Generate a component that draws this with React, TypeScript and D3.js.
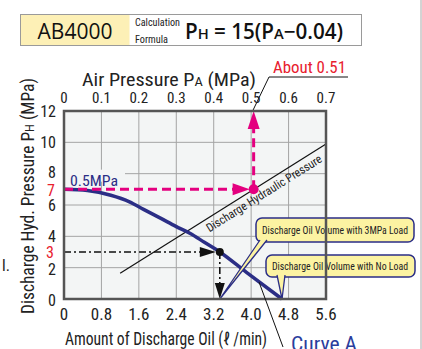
import React from "react";
import * as d3 from "d3";

// ---- data ----
const flowTicks = [0, 0.8, 1.6, 2.4, 3.2, 4.0, 4.8, 5.6];
const flowTickLabels = ["0", "0.8", "1.6", "2.4", "3.2", "4.0", "4.8", "5.6"];
const airTicks = [0, 0.1, 0.2, 0.3, 0.4, 0.5, 0.6, 0.7];
const airTickLabels = ["0", "0.1", "0.2", "0.3", "0.4", "0.5", "0.6", "0.7"];
const phTicks = [0, 2, 4, 6, 8, 10, 12];
const phTickLabels = ["0", "2", "4", "6", "8", "10", "12"];

// Curve A: discharge oil volume vs hydraulic pressure at 0.5MPa air
const curveFlow = [0, 0.5, 1.0, 1.4, 1.7, 2.05, 2.4, 2.7, 3.0, 3.33, 3.9, 4.66];
const curvePH = [7, 6.92, 6.62, 6.2, 5.72, 5.18, 4.62, 4.18, 3.62, 3.0, 1.7, 0];

// Discharge hydraulic pressure line PH = 15(PA - 0.04)
const formulaGain = 15;
const formulaOffset = 0.04;
const formulaRange = [0.15, 0.7];

const markPH = 7; // magenta reading
const loadPH = 3; // 3MPa load
const loadFlow = 3.33;

const FONT = "'Liberation Sans Narrow', 'Roboto Condensed', 'Open Sans', sans-serif";
const FONT_N = "'Open Sans', 'Noto Sans', sans-serif";
const BLUE = "#2b2e86";
const MAGENTA = "#e4007f";
const RED = "#e8202e";

export default function App() {
  const W = 422, H = 349;
  const x = d3.scaleLinear().domain([0, 5.6]).range([64, 326]);
  const xTop = d3.scaleLinear().domain([0, 0.7]).range([64, 326]);
  const y = d3.scaleLinear().domain([0, 12]).range([299, 111]);

  const curvePts: [number, number][] = curveFlow.map((f, i) => [f, curvePH[i]]);
  const curvePath = d3
    .line<[number, number]>()
    .x((d) => x(d[0]))
    .y((d) => y(d[1]))
    .curve(d3.curveMonotoneX)(curvePts) as string;

  const ph = (pa: number) => formulaGain * (pa - formulaOffset);
  const lineX1 = xTop(formulaRange[0]), lineY1 = y(ph(formulaRange[0]));
  const lineX2 = xTop(formulaRange[1]), lineY2 = y(ph(formulaRange[1]));
  const angle = (Math.atan2(lineY2 - lineY1, lineX2 - lineX1) * 180) / Math.PI;

  const markPA = markPH / formulaGain + formulaOffset;
  const mdX = xTop(markPA), mdY = y(ph(markPA));
  const my = y(markPH);

  const ldX = x(loadFlow), ldY = y(loadPH);

  const x0 = x(0), xr = x(5.6), yb = y(0), yt = y(12);

  // text anchor along the formula line
  const tPA = 0.37;
  const tX = xTop(tPA), tY = y(ph(tPA));

  const tickDy = (t: number) => (t === 8 ? 4 : t === 2 ? 7 : t === 0 ? 7 : 6);

  return (
    <svg
      width={W}
      height={H}
      viewBox={`0 0 ${W} ${H}`}
      style={{ position: "absolute", left: 0, top: 0, background: "#fff" }}
    >
      <rect x={0} y={0} width={W} height={H} fill="#fff" />
      <line x1={421} x2={421} y1={0} y2={H} stroke="#a8a8a8" strokeWidth={1} />

      {/* Header */}
      <rect x={20.5} y={14.5} width={109} height={31} fill="#fdf0b6" />
      <rect x={20.5} y={14.5} width={341} height={31} fill="none" stroke="#9a9a9a" strokeWidth={1} />
      <text x={75} y={39} textAnchor="middle" fontFamily={FONT_N} fontSize={21} fill="#111">AB4000</text>
      <text x={135} y={26} fontFamily={FONT} fontSize={10} fill="#222" textLength={45} lengthAdjust="spacingAndGlyphs">Calculation</text>
      <text x={135} y={43} fontFamily={FONT} fontSize={10} fill="#222" textLength={33} lengthAdjust="spacingAndGlyphs">Formula</text>
      <text x={185} y={39} fontFamily={FONT_N} fontSize={21} fontWeight={600} fill="#111" textLength={158} lengthAdjust="spacingAndGlyphs">
        P<tspan fontSize={15}>H</tspan> = 15(P<tspan fontSize={15}>A</tspan>−0.04)
      </text>

      {/* Top axis title */}
      <text x={82} y={86} fontFamily={FONT} fontSize={18} fill="#222" textLength={174} lengthAdjust="spacingAndGlyphs">
        Air Pressure P<tspan fontSize={13}>A</tspan> (MPa)
      </text>

      {/* About 0.51 */}
      <text x={273} y={73} fontFamily={FONT} fontSize={16} fill={RED} textLength={73} lengthAdjust="spacingAndGlyphs">About 0.51</text>
      <polyline points={`348,77 269,77 ${mdX - 1},${yt}`} fill="none" stroke="#111" strokeWidth={1} />

      {/* Plot background */}
      <rect x={x0} y={yt} width={xr - x0} height={yb - yt} fill="#f3f5f5" />
      {/* grid */}
      {flowTicks.map((t) => (
        <line key={"gx" + t} x1={x(t)} x2={x(t)} y1={yt} y2={yb} stroke="#a4a4a4" strokeWidth={1} />
      ))}
      {phTicks.map((t) => (
        <line key={"gy" + t} x1={x0} x2={xr} y1={y(t)} y2={y(t)} stroke="#a4a4a4" strokeWidth={1} />
      ))}
      {/* label background for 0.5MPa */}
      <rect x={x0 + 1} y={y(8) - 4} width={60} height={12} fill="#f3f5f5" />
      <text x={70} y={186} fontFamily={FONT} fontSize={14} fill={BLUE} textLength={48} lengthAdjust="spacingAndGlyphs">0.5MPa</text>

      {/* Discharge hydraulic pressure line */}
      <line x1={lineX1} y1={lineY1} x2={lineX2} y2={lineY2} stroke="#111" strokeWidth={1.2} />
      <g transform={`translate(${tX},${tY}) rotate(${angle})`}>
        <text x={0} y={13} fontFamily={FONT} fontSize={12} fill="#222" textLength={134} lengthAdjust="spacingAndGlyphs">
          Discharge Hydraulic Pressure
        </text>
      </g>

      {/* Curve A */}
      <path d={curvePath} fill="none" stroke={BLUE} strokeWidth={3.5} strokeLinecap="butt" />

      {/* Magenta reading */}
      <line x1={x0} x2={mdX - 20} y1={my} y2={my} stroke={MAGENTA} strokeWidth={3} strokeDasharray="9 5" />
      <path d={`M${mdX - 21},${my - 6} L${mdX - 4},${my} L${mdX - 21},${my + 6} Z`} fill={MAGENTA} />
      <line x1={mdX} x2={mdX} y1={mdY} y2={yt + 16} stroke={MAGENTA} strokeWidth={3} strokeDasharray="9 5" />
      <path d={`M${mdX - 6},${yt + 18} L${mdX},${yt} L${mdX + 6},${yt + 18} Z`} fill={MAGENTA} />
      <circle cx={mdX} cy={mdY} r={5} fill={MAGENTA} />

      {/* Black 3MPa reading */}
      <line x1={x0} x2={ldX - 18} y1={ldY} y2={ldY} stroke="#111" strokeWidth={1.6} strokeDasharray="7 3 2 3" />
      <path d={`M${ldX - 20},${ldY - 5} L${ldX - 4},${ldY} L${ldX - 20},${ldY + 5} Z`} fill="#111" />
      <line x1={ldX} x2={ldX} y1={ldY} y2={yb - 14} stroke="#111" strokeWidth={1.6} strokeDasharray="7 3 2 3" />
      <path d={`M${ldX - 5},${yb - 16} L${ldX},${yb} L${ldX + 5},${yb - 16} Z`} fill="#111" />
      <circle cx={ldX} cy={ldY} r={4} fill="#111" />

      {/* Callout 1 */}
      <rect x={256} y={218} width={158} height={24} rx={6} fill="#fcf3a2" stroke={BLUE} strokeWidth={1.5} />
      <path d={`M260,240 L${ldX},${yb} L267,240`} fill="#fcf3a2" stroke={BLUE} strokeWidth={1.3} />
      <text x={335} y={234} textAnchor="middle" fontFamily={FONT} fontSize={11} fill="#222" textLength={146} lengthAdjust="spacingAndGlyphs">
        Discharge Oil Volume with 3MPa Load
      </text>

      {/* Callout 2 */}
      <rect x={266} y={255} width={149} height={22} rx={6} fill="#fcf3a2" stroke={BLUE} strokeWidth={1.5} />
      <path d={`M277,275 L${x(curveFlow[curveFlow.length - 1])},${yb} L285,275`} fill="#fcf3a2" stroke={BLUE} strokeWidth={1.3} />
      <text x={340} y={270} textAnchor="middle" fontFamily={FONT} fontSize={11} fill="#222" textLength={136} lengthAdjust="spacingAndGlyphs">
        Discharge Oil Volume with No Load
      </text>

      {/* Border */}
      <rect x={x0} y={yt} width={xr - x0} height={yb - yt} fill="none" stroke="#555" strokeWidth={2.5} />

      {/* Top ticks */}
      {airTicks.map((t, i) => (
        <text key={"at" + t} x={xTop(t)} y={103} textAnchor="middle" fontFamily={FONT} fontSize={15} fill="#222">
          {airTickLabels[i]}
        </text>
      ))}
      {/* Bottom ticks */}
      {flowTicks.map((t, i) => (
        <text key={"ft" + t} x={x(t)} y={320} textAnchor="middle" fontFamily={FONT} fontSize={17} fill="#222">
          {flowTickLabels[i]}
        </text>
      ))}
      {/* Left ticks */}
      {phTicks.map((t, i) => (
        <text key={"pt" + t} x={56} y={y(t) + tickDy(t)} textAnchor="end" fontFamily={FONT} fontSize={16} fill="#222">
          {phTickLabels[i]}
        </text>
      ))}
      <text x={55} y={y(markPH) + 7} textAnchor="end" fontFamily={FONT} fontSize={16} fill={RED}>7</text>
      <text x={54} y={y(loadPH) + 6} textAnchor="end" fontFamily={FONT} fontSize={16} fill={RED}>3</text>

      {/* Axis titles */}
      <text x={65} y={345} fontFamily={FONT} fontSize={18} fill="#222" textLength={202} lengthAdjust="spacingAndGlyphs">
        Amount of Discharge Oil (ℓ /min)
      </text>
      <g transform="translate(34,196) rotate(-90)">
        <text x={0} y={0} textAnchor="middle" fontFamily={FONT} fontSize={18} fill="#222" textLength={236} lengthAdjust="spacingAndGlyphs">
          Discharge Hyd. Pressure P<tspan fontSize={13}>H</tspan> (MPa)
        </text>
      </g>
      <text x={2} y={271} fontFamily={FONT} fontSize={16} fill="#222">l.</text>

      {/* Curve A label */}
      <line x1={259} y1={282} x2={283} y2={347} stroke="#111" strokeWidth={1} />
      <text x={291} y={351} fontFamily={FONT} fontSize={20} fill="#2b3d9d" textLength={66} lengthAdjust="spacingAndGlyphs">Curve A</text>
    </svg>
  );
}
